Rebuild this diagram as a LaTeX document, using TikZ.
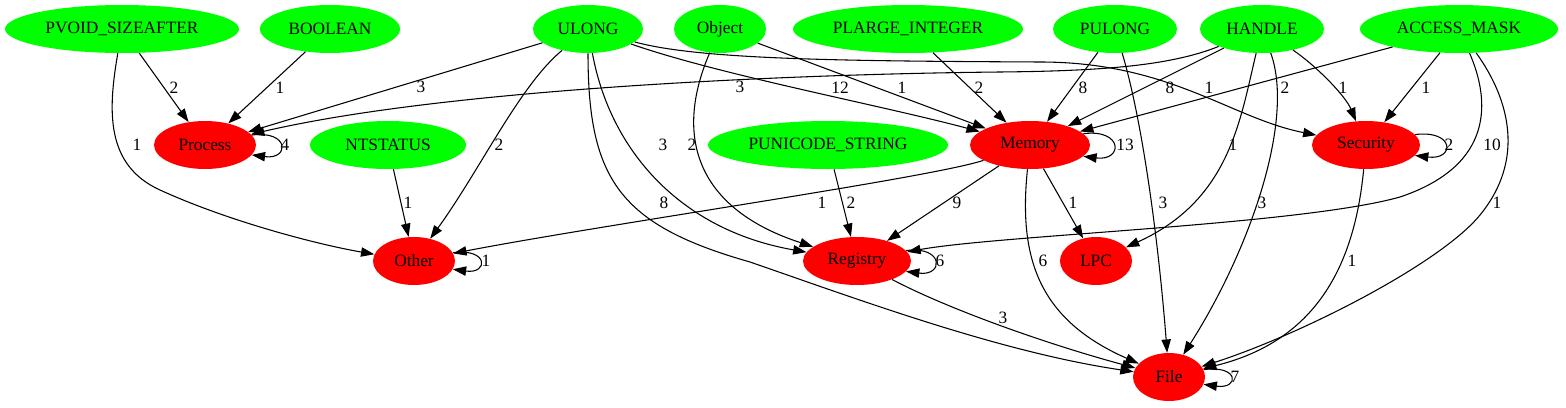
\documentclass[tikz,border=0pt]{standalone}
\usepackage{fontspec}
\setmainfont{Liberation Serif}
\usetikzlibrary{arrows.meta,shapes.geometric}
\definecolor{gvgreen}{RGB}{0,255,0}
\definecolor{gvred}{RGB}{255,0,0}
\begin{document}
\begin{tikzpicture}[x=0.75pt,y=-0.75pt,
  every node/.style={font=\fontsize{13pt}{15pt}\selectfont},
  nd/.style={ellipse, inner sep=0pt, minimum height=36pt, draw=none},
  gn/.style={nd, fill=gvgreen},
  rn/.style={nd, fill=gvred},
  e/.style={draw=black, line width=0.8pt, -{Triangle[length=10pt,width=7pt]}},
  lbl/.style={inner sep=0pt}]
\useasboundingbox (0,0) rectangle (1566,407);
% top row
\node[gn, minimum width=175.5pt] (PV) at (122,29) {PVOID\_SIZEAFTER};
\node[gn, minimum width=105pt] (BO) at (330,29) {BOOLEAN};
\node[gn, minimum width=82.5pt] (UL) at (588,29) {ULONG};
\node[gn, minimum width=69pt] (OB) at (720,29) {Object};
\node[gn, minimum width=172.5pt] (PL) at (908,29) {PLARGE\_INTEGER};
\node[gn, minimum width=93pt] (PU) at (1115,29) {PULONG};
\node[gn, minimum width=93pt] (HA) at (1262,29) {HANDLE};
\node[gn, minimum width=148.5pt] (AM) at (1459,29) {ACCESS\_MASK};
% second row
\node[rn, minimum width=76.5pt] (PR) at (205,145) {Process};
\node[gn, minimum width=117pt] (NT) at (388,145) {NTSTATUS};
\node[gn, minimum width=180pt] (PS) at (828,145) {PUNICODE\_STRING};
\node[rn, minimum width=90pt] (ME) at (1030,145) {Memory};
\node[rn, minimum width=81pt] (SE) at (1366,145) {Security};
% third row
\node[rn, minimum width=61.5pt] (OT) at (414,261) {Other};
\node[rn, minimum width=81pt] (RE) at (857,261) {Registry};
\node[rn, minimum width=54pt] (LP) at (1096,261) {LPC};
% bottom
\node[rn, minimum width=54pt] (FI) at (1169,377) {File};

% edges
\draw[e] (PV) -- (PR);
\draw[e] (PV) .. controls (108,110) and (105,165) .. (160,190) .. controls (230,222) and (320,245) .. (OT);
\draw[e] (BO) -- (PR);
\draw[e] (UL) -- (PR);
\draw[e] (HA) .. controls (1170,66) and (1100,71) .. (1000,72) .. controls (800,74) and (450,88) .. (PR);
\draw[e] (UL) .. controls (720,75) and (880,105) .. (ME);
\draw[e] (UL) .. controls (700,60) and (850,61) .. (1040,62) .. controls (1170,62) and (1230,118) .. (SE);
\draw[e] (UL) .. controls (520,85) and (480,170) .. (OT);
\draw[e] (UL) .. controls (610,150) and (680,230) .. (RE);
\draw[e] (UL) .. controls (588,180) and (620,225) .. (750,262) .. controls (860,300) and (1000,352) .. (FI);
\draw[e] (OB) -- (ME);
\draw[e] (OB) .. controls (672,140) and (700,210) .. (RE);
\draw[e] (PL) -- (ME);
\draw[e] (PU) -- (ME);
\draw[e] (PU) .. controls (1145,130) and (1160,260) .. (FI);
\draw[e] (HA) -- (ME);
\draw[e] (HA) .. controls (1240,120) and (1230,200) .. (LP);
\draw[e] (HA) .. controls (1315,65) and (1345,95) .. (SE);
\draw[e] (HA) .. controls (1295,120) and (1250,250) .. (FI);
\draw[e] (AM) -- (ME);
\draw[e] (AM) -- (SE);
\draw[e] (AM) .. controls (1490,100) and (1495,165) .. (1400,197) .. controls (1300,225) and (1000,235) .. (RE);
\draw[e] (AM) .. controls (1510,100) and (1525,160) .. (1480,215) .. controls (1440,264) and (1300,335) .. (FI);
\draw[e] (NT) -- (OT);
\draw[e] (PS) -- (RE);
\draw[e] (ME) .. controls (930,178) and (600,225) .. (OT);
\draw[e] (ME) -- (RE);
\draw[e] (ME) -- (LP);
\draw[e] (ME) .. controls (1018,260) and (1040,320) .. (FI);
\draw[e] (RE) .. controls (950,310) and (1050,345) .. (FI);
\draw[e] (SE) .. controls (1355,260) and (1320,340) .. (FI);
% self loops
\draw[e] (PR.12) .. controls +(38,-5) and +(38,5) .. (PR.-12);
\draw[e] (ME.12) .. controls +(40,-5) and +(40,5) .. (ME.-12);
\draw[e] (SE.12) .. controls +(40,-5) and +(40,5) .. (SE.-12);
\draw[e] (OT.12) .. controls +(36,-5) and +(36,5) .. (OT.-12);
\draw[e] (RE.12) .. controls +(38,-5) and +(38,5) .. (RE.-12);
\draw[e] (FI.12) .. controls +(36,-5) and +(36,5) .. (FI.-12);

% labels
\node[lbl] (l1) at (174,88) {2};
\node[lbl] (l2) at (137,145) {1};
\node[lbl] (l3) at (280,88) {1};
\node[lbl] (l4) at (421,87) {3};
\node[lbl] (l5) at (740,87) {3};
\node[lbl] (l6) at (840,88) {12};
\node[lbl] (l7) at (1209,88) {1};
\node[lbl] (l8) at (499,145) {2};
\node[lbl] (l9) at (663,145) {3};
\node[lbl] (l10) at (664,203) {8};
\node[lbl] (l11) at (902,88) {1};
\node[lbl] (l12) at (692,145) {2};
\node[lbl] (l13) at (979,88) {2};
\node[lbl] (l14) at (1083,88) {8};
\node[lbl] (l15) at (1163,203) {3};
\node[lbl] (l16) at (1170,88) {8};
\node[lbl] (l17) at (1233,145) {1};
\node[lbl] (l18) at (1343,88) {1};
\node[lbl] (l19) at (1262,203) {3};
\node[lbl] (l20) at (1285,88) {2};
\node[lbl] (l21) at (1426,88) {1};
\node[lbl] (l22) at (1492,145) {10};
\node[lbl] (l23) at (1497,203) {1};
\node[lbl] (l24) at (408,203) {1};
\node[lbl] (l25) at (851,203) {2};
\node[lbl] (l26) at (822,203) {1};
\node[lbl] (l27) at (957,203) {9};
\node[lbl] (l28) at (1073,203) {1};
\node[lbl] (l29) at (1043,261) {6};
\node[lbl] (l30) at (1003,318) {3};
\node[lbl] (l31) at (1352,261) {1};
\node[lbl] (l32) at (285,145) {4};
\node[lbl] (l33) at (1125,145) {13};
\node[lbl] (l34) at (1449,145) {2};
\node[lbl] (l35) at (486,261) {1};
\node[lbl] (l36) at (940,261) {6};
\node[lbl] (l37) at (1235,377) {7};
\end{tikzpicture}
\end{document}
